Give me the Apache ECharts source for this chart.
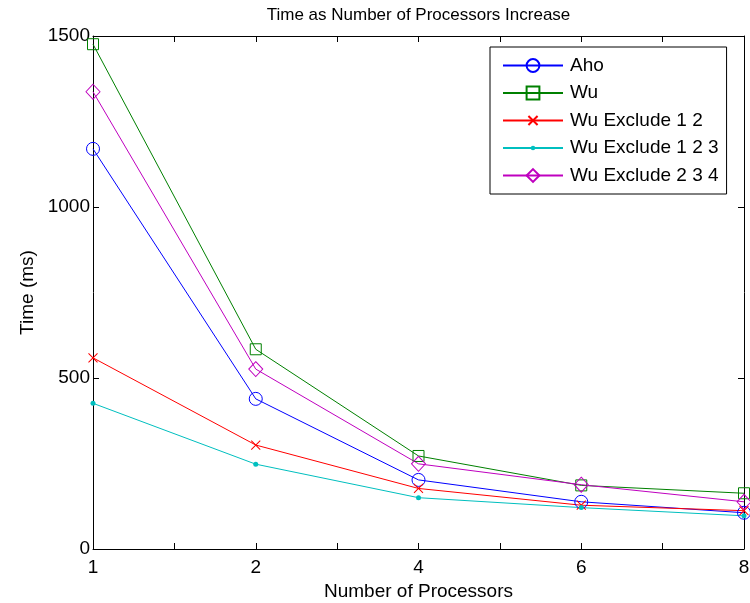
<!DOCTYPE html>
<html>
<head>
<meta charset="utf-8">
<script src="https://cdn.jsdelivr.net/npm/echarts@6/dist/echarts.min.js"></script>
<style>
  html, body { margin: 0; padding: 0; background: #fff; }
  #chart { width: 750px; height: 603px; }
</style>
</head>
<body>
<div id="chart"></div>
<script>
// Processor counts (plotted at evenly spaced positions)
const processors = [1, 2, 4, 6, 8];

// Run times in milliseconds
const aho     = [1170, 439, 202, 138, 106];
const wu      = [1476, 584, 272, 186, 163];
const wuEx12  = [559, 304, 177, 128, 112];
const wuEx123 = [426, 248, 150, 121, 97];
const wuEx234 = [1337, 526, 249, 188, 138];

const yTicks = { min: 0, max: 1500, step: 500 };

const FONT = 'Liberation Sans, Arial, Helvetica, sans-serif';
const BLACK = '#000';

const toPairs = vals => vals.map((v, i) => [i, v]);

// Marker glyphs drawn inside a padded 14x14 box, so the mark keeps a
// small size in the legend as well as in the plot.
const crossPath = 'path://M0,0M14,14M2,2L12,12M12,2L2,12';
const dotPath = 'path://M0,0M14,14M4.5,7a2.5,2.5 0 1,0 5,0a2.5,2.5 0 1,0 -5,0z';

function lineSeries(name, vals, color, symbol, size, filled) {
  return {
    name: name,
    type: 'line',
    data: toPairs(vals),
    symbol: symbol,
    symbolSize: size,
    showAllSymbol: true,
    lineStyle: { color: color, width: 1 },
    itemStyle: filled
      ? { color: color, borderColor: color, borderWidth: 0 }
      : { color: 'rgba(0,0,0,0)', borderColor: color, borderWidth: 1 },
    emphasis: { disabled: true },
    animation: false
  };
}

const baseX = {
  type: 'value',
  min: 0,
  max: processors.length - 1,
  interval: 0.5,
  splitLine: { show: false },
  axisLine: { show: true, onZero: false, lineStyle: { color: BLACK, width: 1 } },
  axisTick: { show: true, inside: true, length: 6, lineStyle: { color: BLACK, width: 1 } }
};

const baseY = {
  type: 'value',
  min: yTicks.min,
  max: yTicks.max,
  interval: yTicks.step,
  splitLine: { show: false },
  axisLine: { show: true, onZero: false, lineStyle: { color: BLACK, width: 1 } },
  axisTick: { show: true, inside: true, length: 6, lineStyle: { color: BLACK, width: 1 } }
};

const chart = echarts.init(document.getElementById('chart'), null, { renderer: 'canvas' });

chart.setOption({
  backgroundColor: '#fff',
  textStyle: { fontFamily: FONT },
  graphic: [{
    type: 'text',
    x: 418.5,
    y: 7,
    style: {
      text: 'Time as Number of Processors Increase',
      font: '17px ' + FONT,
      fill: BLACK,
      textAlign: 'center',
      textVerticalAlign: 'top'
    }
  }],
  grid: {
    left: 93, right: 6, top: 36, bottom: 54,
    containLabel: false,
    outerBoundsMode: 'none'
  },
  xAxis: [
    Object.assign({}, baseX, {
      position: 'bottom',
      name: 'Number of Processors',
      nameLocation: 'middle',
      nameGap: 33,
      nameTextStyle: { fontSize: 19, color: BLACK, fontFamily: FONT },
      axisLabel: {
        show: true,
        margin: 9,
        fontSize: 19,
        color: BLACK,
        fontFamily: FONT,
        formatter: v => Number.isInteger(v) ? String(processors[v]) : ''
      }
    }),
    Object.assign({}, baseX, {
      position: 'top',
      axisLabel: { show: false }
    })
  ],
  yAxis: [
    Object.assign({}, baseY, {
      position: 'left',
      name: 'Time (ms)',
      nameLocation: 'middle',
      nameGap: 56,
      nameTextStyle: { fontSize: 19, color: BLACK, fontFamily: FONT },
      axisLabel: {
        show: true, margin: 3, fontSize: 19, color: BLACK, fontFamily: FONT,
        formatter: v => String(v)
      }
    }),
    Object.assign({}, baseY, {
      position: 'right',
      axisLabel: { show: false }
    })
  ],
  legend: {
    orient: 'vertical',
    left: 490,
    top: 47,
    padding: [9, 8, 9, 12],
    itemWidth: 60,
    itemHeight: 16,
    itemGap: 8.5,
    backgroundColor: '#fff',
    borderColor: BLACK,
    borderWidth: 1,
    selectedMode: false,
    textStyle: { fontSize: 19, color: BLACK, fontFamily: FONT, padding: [0, 0, 0, 2] },
    data: ['Aho', 'Wu', 'Wu Exclude 1 2', 'Wu Exclude 1 2 3', 'Wu Exclude 2 3 4']
  },
  series: [
    lineSeries('Aho', aho, '#0000ff', 'circle', 13, false),
    lineSeries('Wu', wu, '#008000', 'rect', 11, false),
    lineSeries('Wu Exclude 1 2', wuEx12, '#ff0000', crossPath, 12.6, false),
    lineSeries('Wu Exclude 1 2 3', wuEx123, '#00bfbf', dotPath, 14, true),
    lineSeries('Wu Exclude 2 3 4', wuEx234, '#bf00bf', 'diamond', [14, 15], false)
  ]
});
</script>
</body>
</html>
